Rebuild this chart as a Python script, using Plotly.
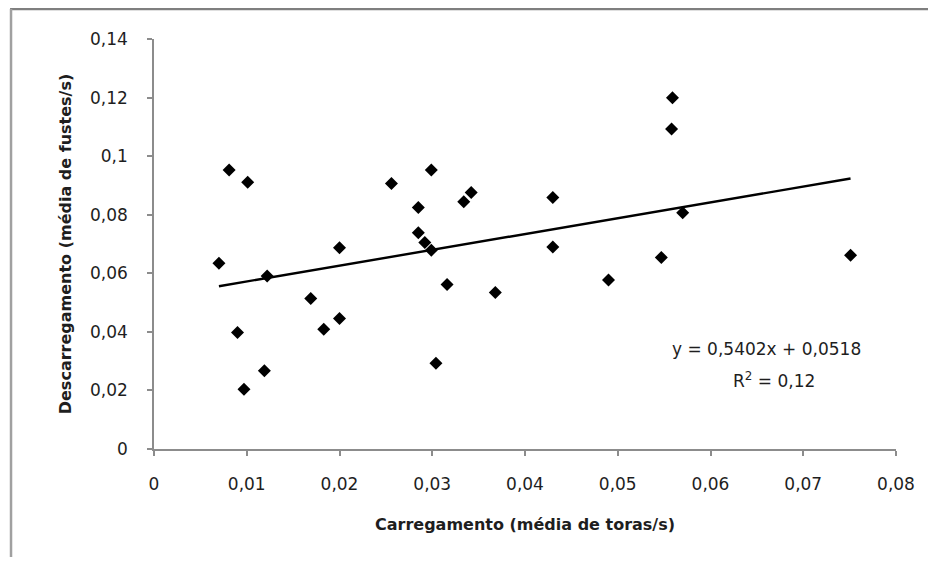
import plotly.graph_objects as go

# Carregamento (toras/s) x Descarregamento (fustes/s)
carregamento = [0.0070, 0.0081, 0.0090, 0.0097, 0.0101, 0.0119, 0.0122, 0.0169, 0.0183, 0.0200,
                0.0200, 0.0256, 0.0285, 0.0285, 0.0292, 0.0299, 0.0299, 0.0304, 0.0316, 0.0334,
                0.0342, 0.0368, 0.0430, 0.0430, 0.0490, 0.0547, 0.0558, 0.0559, 0.0570, 0.0751]
descarregamento = [0.0634, 0.0953, 0.0398, 0.0204, 0.0911, 0.0267, 0.0591, 0.0514, 0.0409, 0.0446,
                   0.0687, 0.0907, 0.0825, 0.0738, 0.0705, 0.0953, 0.0679, 0.0293, 0.0562, 0.0844,
                   0.0876, 0.0534, 0.0859, 0.0690, 0.0577, 0.0654, 0.1093, 0.1199, 0.0807, 0.0662]

slope = 0.5402
intercept = 0.0518
r2 = 0.12

x_ticks = [0, 0.01, 0.02, 0.03, 0.04, 0.05, 0.06, 0.07, 0.08]
x_labels = ['0', '0,01', '0,02', '0,03', '0,04', '0,05', '0,06', '0,07', '0,08']
y_ticks = [0, 0.02, 0.04, 0.06, 0.08, 0.1, 0.12, 0.14]
y_labels = ['0', '0,02', '0,04', '0,06', '0,08', '0,1', '0,12', '0,14']

font_family = "'DejaVu Sans', sans-serif"
text_color = '#1e1e1e'
axis_color = '#8c8c8c'

x_fit = [min(carregamento), max(carregamento)]
y_fit = [slope * x + intercept for x in x_fit]

fig = go.Figure()
fig.add_trace(go.Scatter(
    x=x_fit, y=y_fit, mode='lines',
    line=dict(color='black', width=2.4),
    hoverinfo='skip'
))
fig.add_trace(go.Scatter(
    x=carregamento, y=descarregamento, mode='markers',
    marker=dict(symbol='diamond', size=10, color='black')
))

fig.update_layout(
    width=920, height=549,
    margin=dict(l=146, r=32, t=31, b=108),
    paper_bgcolor='white', plot_bgcolor='white',
    showlegend=False,
    font=dict(family=font_family, size=17, color=text_color),
    xaxis=dict(
        range=[0, 0.08], tickvals=x_ticks, ticktext=x_labels,
        showgrid=False, zeroline=False,
        showline=True, linecolor=axis_color, linewidth=1.5,
        ticks='outside', ticklen=5, tickcolor=axis_color, tickwidth=1.5,
        ticklabelstandoff=14,
        title=dict(text='<b>Carregamento (média de toras/s)</b>', font=dict(size=16), standoff=26),
    ),
    yaxis=dict(
        range=[0, 0.14], tickvals=y_ticks, ticktext=y_labels,
        showgrid=False, zeroline=False,
        showline=True, linecolor=axis_color, linewidth=1.5,
        ticks='outside', ticklen=5, tickcolor=axis_color, tickwidth=1.5,
        ticklabelstandoff=16,
        title=dict(text='<b>Descarregamento (média de fustes/s)</b>', font=dict(size=16), standoff=14),
    ),
)

fig.add_annotation(
    x=0.0660, y=0.0341, xref='x', yref='y',
    text=f'y = {slope:.4f}x + {intercept:.4f}'.replace('.', ','),
    showarrow=False, font=dict(size=17, color=text_color)
)
fig.add_annotation(
    x=0.0668, y=0.0236, xref='x', yref='y',
    text=f'R<sup>2</sup> = {r2:.2f}'.replace('.', ','),
    showarrow=False, font=dict(size=17, color=text_color)
)

# moldura cinza do gráfico (só topo e esquerda visíveis)
fig.add_shape(type='line', xref='paper', yref='paper',
              x0=-0.194, x1=1.05, y0=1.0732, y1=1.0732,
              line=dict(color='#7f7f7f', width=2.5))
fig.add_shape(type='line', xref='paper', yref='paper',
              x0=-0.1927, x1=-0.1927, y0=1.0732, y1=-0.27,
              line=dict(color='#a0a0a0', width=2.5))

fig.write_html("out.html")
